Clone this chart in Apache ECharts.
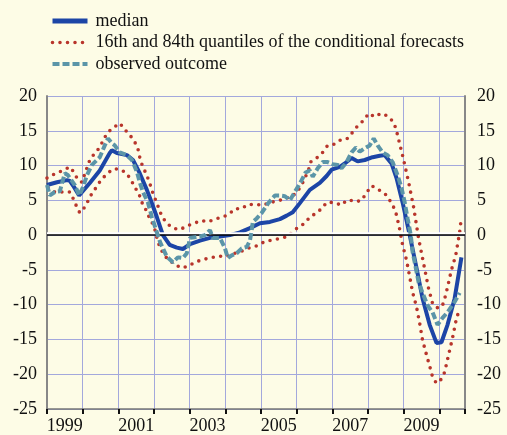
<!DOCTYPE html>
<html>
<head>
<meta charset="utf-8">
<script src="https://cdn.jsdelivr.net/npm/echarts@6/dist/echarts.min.js"></script>
<style>
html,body{margin:0;padding:0;background:#fdfce6;}
#chart{width:507px;height:435px;}
</style>
</head>
<body>
<div id="chart"></div>
<script>
// ---- data (decimal years, percent) ----
var yearLabels = ['1999','2001','2003','2005','2007','2009'];
var yTicks = [-25,-20,-15,-10,-5,0,5,10,15,20];

var tMedian = [1999.00,1999.28,1999.56,1999.64,1999.76,1999.90,2000.20,2000.48,2000.76,2000.82,2000.96,2001.24,2001.41,2001.60,2001.80,2001.89,2002.08,2002.25,2002.44,2002.64,2002.81,2003.01,2003.29,2003.57,2003.85,2004.13,2004.41,2004.69,2004.97,2005.25,2005.53,2005.72,2005.89,2006.09,2006.37,2006.65,2006.84,2006.98,2007.21,2007.35,2007.54,2007.71,2007.91,2008.13,2008.33,2008.47,2008.66,2008.80,2008.97,2009.17,2009.36,2009.53,2009.73,2009.92,2010.06,2010.23,2010.43,2010.62];
var vMedian = [7.2,7.6,7.9,7.8,6.9,5.7,7.5,9.3,11.8,12.2,11.8,11.5,10.8,8.9,6.5,5.3,2.6,0,-1.4,-1.8,-2.0,-1.3,-0.8,-0.4,-0.2,0,0.4,1.0,1.7,1.9,2.3,2.8,3.3,4.6,6.5,7.5,8.5,9.4,9.8,10.3,11.1,10.6,10.8,11.2,11.4,11.5,10.3,8.2,4.7,0,-4.7,-9.1,-12.9,-15.5,-15.4,-12.9,-9.1,-3.2];

var tUpper = [1999.00,1999.25,1999.45,1999.64,1999.76,1999.87,1999.98,2000.06,2000.20,2000.34,2000.48,2000.60,2000.71,2000.85,2001.04,2001.18,2001.35,2001.46,2001.55,2001.60,2001.66,2001.77,2001.86,2001.97,2002.08,2002.22,2002.36,2002.53,2002.73,2002.92,2003.12,2003.34,2003.51,2003.71,2003.93,2004.10,2004.27,2004.46,2004.63,2004.85,2005.05,2005.25,2005.47,2005.69,2005.86,2006.03,2006.20,2006.34,2006.39,2006.59,2006.73,2006.87,2007.07,2007.26,2007.43,2007.57,2007.71,2007.88,2008.02,2008.19,2008.36,2008.52,2008.69,2008.78,2008.89,2009.00,2009.14,2009.28,2009.42,2009.56,2009.70,2009.81,2009.92,2010.01,2010.12,2010.23,2010.34,2010.46,2010.57,2010.62];
var vUpper = [8.2,8.9,9.3,9.8,9.0,7.9,7.6,8.8,10.8,11.8,12.6,13.9,14.8,15.4,16.1,15.2,14.2,13.4,12.4,11.2,10.2,8.9,7.8,6.0,4.6,2.7,1.7,1.0,0.8,1.3,1.7,2.1,1.9,2.3,2.6,3.0,3.8,3.8,4.4,4.4,4.3,4.7,4.9,5.3,5.5,6.3,7.8,9.5,10.5,11.2,11.9,12.9,13.1,13.8,13.9,14.8,15.7,16.5,17.5,17.0,17.5,17.2,16.4,15.4,13.1,10.8,7.6,4.0,-0.5,-4.1,-7.7,-9.8,-10.4,-10.5,-9.8,-7.5,-5.0,-2.9,0.4,2.6];

var tLower = [1999.03,1999.22,1999.42,1999.64,1999.73,1999.84,1999.92,2000.04,2000.15,2000.26,2000.40,2000.51,2000.68,2000.85,2001.02,2001.21,2001.35,2001.46,2001.58,2001.66,2001.75,2001.83,2001.94,2002.03,2002.11,2002.25,2002.39,2002.56,2002.75,2002.95,2003.15,2003.37,2003.57,2003.79,2004.01,2004.21,2004.46,2004.69,2004.91,2005.08,2005.30,2005.53,2005.75,2005.89,2006.06,2006.23,2006.37,2006.53,2006.70,2006.84,2007.04,2007.26,2007.40,2007.52,2007.66,2007.82,2007.96,2008.10,2008.27,2008.47,2008.61,2008.72,2008.80,2008.89,2008.97,2009.08,2009.17,2009.25,2009.36,2009.45,2009.53,2009.64,2009.76,2009.81,2009.92,2010.06,2010.15,2010.26,2010.37,2010.46,2010.51,2010.60];
var vLower = [6.8,6.2,6.2,6.2,5.3,4.0,3.2,3.9,4.9,6.0,7.0,7.9,8.8,9.5,9.5,9.0,8.0,6.9,5.9,4.7,3.9,2.9,1.9,0.7,-1.0,-2.6,-3.5,-4.1,-4.7,-4.5,-3.9,-3.5,-3.3,-3.0,-3.1,-2.7,-2.3,-1.8,-1.5,-1.0,-0.7,-0.5,-0.2,0.5,1.2,1.7,2.6,3.1,3.8,4.7,4.7,4.3,5.0,5.0,4.8,5.0,6.1,7.1,6.6,6.0,5.0,4.0,2.9,0.8,-1.4,-3.6,-6.0,-8.2,-10.3,-12.7,-15.1,-17.2,-19.4,-20.4,-21.3,-20.7,-19.7,-17.2,-14.8,-12.5,-11.5,-10.6];

var tObserved = [1999.00,1999.08,1999.22,1999.36,1999.50,1999.59,1999.78,1999.90,2000.01,2000.12,2000.26,2000.40,2000.48,2000.62,2000.71,2000.82,2000.90,2001.04,2001.24,2001.38,2001.52,2001.60,2001.69,2001.83,2001.94,2002.03,2002.17,2002.36,2002.53,2002.67,2002.81,2002.92,2003.01,2003.15,2003.29,2003.43,2003.57,2003.65,2003.85,2003.90,2003.99,2004.07,2004.18,2004.32,2004.46,2004.60,2004.69,2004.74,2004.77,2004.88,2005.02,2005.19,2005.39,2005.53,2005.67,2005.81,2005.89,2006.03,2006.14,2006.25,2006.37,2006.45,2006.59,2006.73,2006.87,2007.01,2007.15,2007.26,2007.40,2007.54,2007.66,2007.77,2007.91,2008.05,2008.16,2008.27,2008.41,2008.55,2008.69,2008.83,2008.94,2009.03,2009.11,2009.20,2009.25,2009.34,2009.42,2009.53,2009.67,2009.81,2009.95,2010.09,2010.23,2010.43,2010.57];
var vObserved = [7.2,5.7,6.2,6.3,8.9,8.6,7.2,5.7,6.9,8.6,10.1,10.8,11.2,12.9,13.9,13.2,12.9,11.9,11.5,10.8,9.1,7.6,6.2,4.7,2.6,1.2,-1.0,-3.1,-3.9,-3.2,-3.3,-2.6,-0.4,-0.3,-0.2,0,0.7,-0.4,-0.4,-0.3,-1.9,-3.3,-2.9,-2.6,-1.9,-1.7,-0.8,0.7,1.9,2.4,3.2,4.5,5.7,5.7,5.6,5.0,5.7,6.9,7.9,9.0,9.3,8.4,9.6,10.5,10.5,10.2,10.1,9.6,10.5,11.9,12.6,12.0,12.5,12.9,13.9,12.9,11.9,11.5,10.5,8.6,6.8,4.7,2.4,0,-2.4,-4.7,-6.8,-8.3,-10.1,-11.1,-12.9,-11.9,-11.1,-9.6,-8.3];

function pairs(t, v){ return t.map(function(x,i){ return [x, v[i]]; }); }

var NAME_MED = 'median';
var NAME_Q = '16th and 84th quantiles of the conditional forecasts';
var NAME_OBS = 'observed outcome';

var FONT = 'Liberation Serif';
var XMIN = 1999, XMAX = 2010.72;
var RED = '#b8352b', BLUE = '#1c45a6', TEAL = '#5b95a8';
var HIDDEN = {color:'rgba(0,0,0,0)', borderColor:'rgba(0,0,0,0)', borderWidth:0, opacity:0};

var chart = echarts.init(document.getElementById('chart'), null, {renderer:'canvas'});
var dotStyle = {color:RED, width:3.6, type:[0,7.5], cap:'round'};

chart.setOption({
  backgroundColor:'#fdfce6',
  animation:false,
  legend:{
    orient:'vertical', left:45, top:7,
    itemWidth:35, itemHeight:14, itemGap:3.5,
    itemStyle:HIDDEN,
    data:[
      {name:NAME_MED, itemStyle:HIDDEN, lineStyle:{width:5, color:BLUE, type:'solid'}},
      {name:NAME_Q, itemStyle:HIDDEN, lineStyle:{width:3.6, color:RED, type:[0,7.5], cap:'round'}},
      {name:NAME_OBS, itemStyle:HIDDEN, lineStyle:{width:4, color:TEAL, type:[7,3]}}
    ],
    textStyle:{fontFamily:FONT, fontSize:18, lineHeight:18, color:'#111', padding:[0,0,0,3]}
  },
  grid:{left:47, right:42, top:96, bottom:26, containLabel:false},
  xAxis:[{
    type:'value', min:XMIN, max:XMAX, interval:1,
    axisLine:{show:true, onZero:false, lineStyle:{color:'#777', width:1.5}},
    axisTick:{show:true, inside:false, length:5, lineStyle:{color:'#111', width:2}},
    axisLabel:{show:false},
    splitLine:{show:true, lineStyle:{color:'#a3a8dc', width:1}}
  },{
    type:'value', min:XMIN, max:XMAX, interval:0.5, position:'bottom',
    axisLine:{show:false}, axisTick:{show:false}, splitLine:{show:false},
    axisLabel:{show:true, margin:8, fontFamily:FONT, fontSize:18, color:'#111',
      formatter:function(v){
        var y=Math.floor(v);
        if (Math.abs(v-y-0.5)<1e-6 && yearLabels.indexOf(String(y))>=0) return String(y);
        return '';
      }}
  }],
  yAxis:[{
    type:'value', min:-25, max:20, interval:5, position:'left',
    axisLine:{show:true, lineStyle:{color:'#888', width:2}},
    axisTick:{show:false},
    axisLabel:{margin:10, fontFamily:FONT, fontSize:18, color:'#111',
      formatter:function(v){ return yTicks.indexOf(v)>=0 ? String(v) : ''; }},
    splitLine:{show:true, lineStyle:{color:'#a3a8dc', width:1}}
  },{
    type:'value', min:-25, max:20, interval:5, position:'right',
    axisLine:{show:true, lineStyle:{color:'#888', width:2}},
    axisTick:{show:false},
    axisLabel:{margin:12, fontFamily:FONT, fontSize:18, color:'#111',
      formatter:function(v){ return yTicks.indexOf(v)>=0 ? String(v) : ''; }},
    splitLine:{show:false}
  }],
  series:[
    {name:NAME_MED, type:'line', xAxisIndex:0, yAxisIndex:0, symbol:'none', smooth:false,
     data:pairs(tMedian, vMedian), z:4,
     lineStyle:{color:BLUE, width:4},
     itemStyle:{color:BLUE},
     markLine:{silent:true, symbol:'none', label:{show:false}, animation:false,
       data:[{yAxis:0.3, lineStyle:{color:'#ffffff', width:2.5, type:'solid'}},
             {yAxis:0, lineStyle:{color:'#000000', width:1.5, type:'solid'}}]}},
    {name:NAME_Q, type:'line', xAxisIndex:0, yAxisIndex:0, symbol:'none',
     data:pairs(tUpper, vUpper), z:3, lineStyle:dotStyle, itemStyle:{color:RED}},
    {name:NAME_Q, type:'line', xAxisIndex:0, yAxisIndex:0, symbol:'none',
     data:pairs(tLower, vLower), z:3, lineStyle:dotStyle, itemStyle:{color:RED}},
    {name:NAME_OBS, type:'line', xAxisIndex:0, yAxisIndex:0, symbol:'none',
     data:pairs(tObserved, vObserved), z:5,
     lineStyle:{color:TEAL, width:4, type:[7,3]},
     itemStyle:{color:TEAL}}
  ]
});
</script>
</body>
</html>
